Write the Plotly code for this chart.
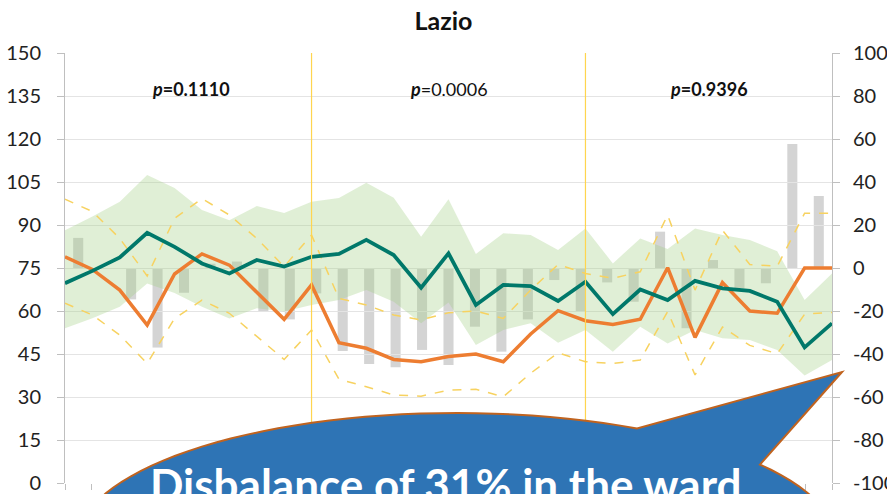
import numpy as np
import plotly.graph_objects as go

# category index (29 periods)
idx = list(range(29))

# left axis series
teal = [69.7, 74.0, 78.7, 87.3, 82.4, 76.6, 73.1, 77.8, 75.5, 78.9, 79.9, 84.8, 79.5, 68.1, 80.1,
        62.1, 69.1, 68.7, 63.5, 70.2, 58.9, 67.5, 63.8, 70.5, 67.9, 67.0, 63.2, 47.3, 55.7]
orange = [78.9, 74.5, 67.3, 55.1, 72.9, 79.9, 76.0, 66.7, 57.1, 69.1, 48.9, 47.0, 43.1, 42.3, 44.1,
          45.0, 42.3, 52.0, 60.1, 56.6, 55.3, 57.1, 75.1, 50.8, 69.9, 60.0, 59.2, 75.0, 75.0]
band_hi = [88.2, 93.0, 98.1, 107.4, 102.9, 95.2, 91.7, 96.6, 94.2, 98.1, 99.4, 104.7, 99.5, 85.9, 99.0,
           79.9, 87.1, 86.5, 81.3, 88.8, 76.6, 85.3, 81.6, 88.8, 86.5, 84.8, 80.8, 63.8, 73.1]
band_lo = [54.0, 57.5, 61.5, 69.6, 66.3, 61.5, 57.4, 61.0, 59.8, 62.1, 63.8, 67.3, 63.2, 55.7, 63.0,
           48.1, 53.4, 55.7, 48.9, 53.4, 45.8, 54.5, 48.7, 53.4, 50.5, 49.9, 46.4, 37.5, 42.9]
dash_hi = [99.0, 94.7, 85.3, 72.2, 92.3, 99.2, 93.5, 85.3, 75.5, 86.5, 64.4, 62.1, 58.6, 56.9, 59.4,
           60.0, 57.4, 67.3, 76.2, 73.1, 71.4, 73.7, 93.5, 67.3, 88.2, 76.2, 75.6, 94.1, 94.1]
dash_lo = [62.7, 58.6, 51.6, 41.7, 57.4, 63.8, 59.2, 51.0, 43.1, 53.4, 36.2, 33.6, 30.7, 30.3, 32.4,
           32.7, 30.1, 38.3, 45.4, 42.3, 41.7, 42.9, 59.8, 37.7, 54.4, 48.0, 45.1, 58.9, 59.5]

# right axis bars (% difference)
diff = [14, 0, -14.6, -37, -11.5, 2, 3, -20.3, -23.9, -11.8, -38.6, -44.7, -46.2, -38.1, -45.1,
        -27.3, -38.9, -23.9, -5.6, -20, -6.7, -15.7, 16.9, -28, 3.7, -9.5, -7.1, 57.7, 33.5]

# right axis ticks (plain hyphen labels)
right_ticks = [-100, -80, -60, -40, -20, 0, 20, 40, 60, 80, 100]
right_labels = ["-100", "-80", "-60", "-40", "-20", "0", "20", "40", "60", "80", "100"]

# period splits and p-values
split_idx = [9, 19]
p_labels = ["<b><i>p</i>=0.1110</b>", "<b><i>p</i></b>=0.0006", "<b><i>p</i>=0.9396</b>"]
p_pos = [4.6, 14, 23.5]

W, H = 887, 494
L, R, T, B = 65, 55, 53, 11
font = "Lato, Open Sans, sans-serif"

fig = go.Figure()

fig.add_trace(go.Bar(x=idx, y=diff, xaxis="x", yaxis="y2", marker_color="#d4d4d4",
                     marker_line_width=0))

fig.add_trace(go.Scatter(x=idx, y=band_hi, xaxis="x2", yaxis="y", mode="lines",
                         line=dict(width=0), hoverinfo="skip"))
fig.add_trace(go.Scatter(x=idx, y=band_lo, xaxis="x2", yaxis="y", mode="lines",
                         line=dict(width=0), fill="tonexty",
                         fillcolor="rgba(160,205,130,0.33)"))
for d in (dash_hi, dash_lo):
    fig.add_trace(go.Scatter(x=idx, y=d, xaxis="x2", yaxis="y", mode="lines",
                             line=dict(color="#f7d260", width=1.5, dash="dash")))
fig.add_trace(go.Scatter(x=idx, y=orange, xaxis="x2", yaxis="y", mode="lines",
                         line=dict(color="#ed7d31", width=3.5)))
fig.add_trace(go.Scatter(x=idx, y=teal, xaxis="x2", yaxis="y", mode="lines",
                         line=dict(color="#00786a", width=3.8)))

for s in split_idx:
    fig.add_shape(type="line", xref="x2", yref="paper", x0=s, x1=s, y0=0, y1=1,
                  line=dict(color="#ffd54f", width=1.2))

for txt, xp in zip(p_labels, p_pos):
    fig.add_annotation(text=txt, x=xp, xref="x2", y=0.947, yref="paper", showarrow=False,
                       font=dict(size=18, color="#111", family=font))

# speech bubble (pixel geometry -> paper)
pw, ph = W - L - R, H - T - B
def to_paper(px, py):
    return (px - L) / pw, (H - B - py) / ph

cx, cy, a, b = 457, 543, 380, 130
t0 = np.arccos((637 - cx) / a)
t1 = np.arccos((760 - cx) / a) + 2 * np.pi
ts = np.linspace(t0, t1, 120)
pts = [to_paper(cx + a * np.cos(t), cy - b * np.sin(t)) for t in ts]
pts.append(to_paper(842, 372))
path = "M " + " L ".join(f"{x:.4f},{y:.4f}" for x, y in pts) + " Z"
fig.add_shape(type="path", xref="paper", yref="paper", path=path,
              fillcolor="#2e74b5", line=dict(color="#c0631f", width=2))
bx, by = to_paper(148, 456)
fig.add_annotation(text="<b>Disbalance of 31% in the ward</b>", x=bx, y=by, xref="paper",
                   yref="paper", xanchor="left", yanchor="top", showarrow=False,
                   font=dict(size=44, color="white", family=font))

fig.update_layout(
    width=W, height=H, margin=dict(l=L, r=R, t=T, b=B, autoexpand=False),
    paper_bgcolor="white", plot_bgcolor="rgba(0,0,0,0)", showlegend=False, bargap=0.62,
    title=dict(text="<b>Lazio</b>", x=0.5, xanchor="center", y=0.957, yanchor="middle",
               font=dict(size=25, color="#111", family=font)),
    xaxis=dict(range=[-0.5, 28.5], tickvals=[i - 0.5 for i in range(30)], ticks="outside",
               ticklen=6, tickcolor="#bfbfbf", showticklabels=False, showgrid=False,
               showline=False, zeroline=False, automargin=False),
    xaxis2=dict(range=[0, 28], overlaying="x", visible=False),
    yaxis=dict(range=[0, 150], dtick=15, showgrid=True, gridcolor="#e4e4e4", ticks="outside",
               ticklen=7, tickcolor="#bfbfbf", showline=True, linecolor="#bfbfbf",
               zeroline=False, ticklabelstandoff=12, automargin=False,
               tickfont=dict(size=20, color="#222", family=font)),
    yaxis2=dict(range=[-100, 100], tickvals=right_ticks, ticktext=right_labels,
                overlaying="y", side="right", showgrid=False,
                ticks="outside", ticklen=7, tickcolor="#bfbfbf", showline=True,
                linecolor="#bfbfbf", zeroline=True, zerolinecolor="#a6a6a6", zerolinewidth=1.3,
                ticklabelstandoff=9, automargin=False,
                tickfont=dict(size=20, color="#222", family=font)),
)

# page has a default 8px body margin; remove it so the figure sits at the window corner
fig.write_html("out.html", config={"displayModeBar": False},
               post_script="document.body.style.margin='0';")
